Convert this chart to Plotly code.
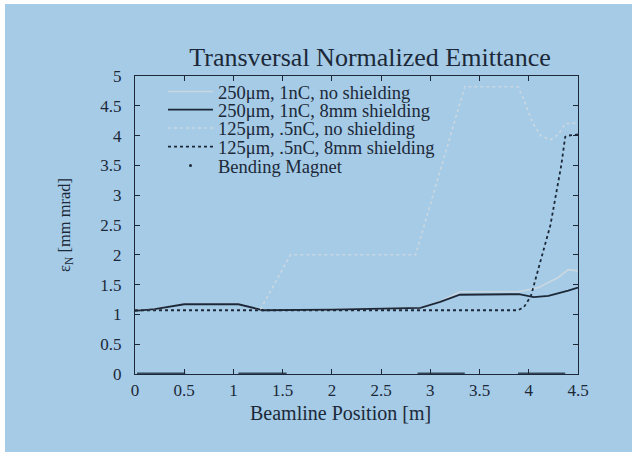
import plotly.graph_objects as go

# ---- data ----
x_250_noshield = [0, 0.2, 0.5, 1.05, 1.3, 2.0, 2.9, 3.1, 3.3, 3.9, 4.1, 4.3, 4.4, 4.5]
y_250_noshield = [1.06, 1.09, 1.17, 1.17, 1.07, 1.08, 1.11, 1.22, 1.38, 1.38, 1.45, 1.62, 1.75, 1.73]

x_250_shield = [0, 0.2, 0.5, 1.05, 1.3, 2.0, 2.9, 3.1, 3.3, 3.9, 4.05, 4.2, 4.4, 4.5]
y_250_shield = [1.06, 1.09, 1.17, 1.17, 1.07, 1.08, 1.11, 1.21, 1.33, 1.34, 1.29, 1.31, 1.40, 1.45]

x_125_noshield = [0, 1.27, 1.58, 2.85, 3.35, 3.89, 3.95, 4.04, 4.12, 4.22, 4.3, 4.37, 4.5]
y_125_noshield = [1.07, 1.07, 2.0, 2.0, 4.82, 4.82, 4.6, 4.21, 4.0, 3.93, 4.02, 4.2, 4.21]

x_125_shield = [0, 3.89, 3.95, 4.02, 4.22, 4.33, 4.37, 4.4, 4.5]
y_125_shield = [1.07, 1.07, 1.12, 1.3, 2.5, 3.5, 3.98, 4.0, 4.02]

magnet_start = [0.02, 1.05, 2.87, 3.89]
magnet_end = [0.51, 1.54, 3.35, 4.37]

series_names = [
    "250μm, 1nC, no shielding",
    "250μm, 1nC, 8mm shielding",
    "125μm, .5nC, no shielding",
    "125μm, .5nC, 8mm shielding",
    "Bending Magnet",
]

x_ticks = [0, 0.5, 1, 1.5, 2, 2.5, 3, 3.5, 4, 4.5]
y_ticks = [0, 0.5, 1, 1.5, 2, 2.5, 3, 3.5, 4, 4.5, 5]

# ---- styling / layout (page pixels) ----
BG = "#a5cbe6"
DARK = "#1c2838"
LIGHT = "#cad7e1"
FONT = "Liberation Serif"
OX, OY = 5, 4                     # white page border (body margin)
PL, PR, PT, PB = 135, 578, 76, 374  # plot area in page pixels
W, H = 632 - OX, 452 - OY


def px(xp):
    return (xp - PL) / (PR - PL)


def py(yp):
    return (PB - yp) / (PB - PT)


mag_x, mag_y = [], []
for s, e in zip(magnet_start, magnet_end):
    mag_x += [s, e, None]
    mag_y += [0, 0, None]

legend_rows = [92, 110, 128.5, 147, 166]
legend_ids = ["legend", "legend2", "legend3", "legend4", "legend5"]

fig = go.Figure()
fig.add_trace(go.Scatter(x=x_250_noshield, y=y_250_noshield, mode="lines",
                         name=series_names[0], legend=legend_ids[0],
                         line=dict(color=LIGHT, width=1.6)))
fig.add_trace(go.Scatter(x=x_250_shield, y=y_250_shield, mode="lines",
                         name=series_names[1], legend=legend_ids[1],
                         line=dict(color=DARK, width=1.8)))
fig.add_trace(go.Scatter(x=x_125_noshield, y=y_125_noshield, mode="lines",
                         name=series_names[2], legend=legend_ids[2],
                         line=dict(color=LIGHT, width=1.6, dash="dot")))
fig.add_trace(go.Scatter(x=x_125_shield, y=y_125_shield, mode="lines",
                         name=series_names[3], legend=legend_ids[3],
                         line=dict(color=DARK, width=1.8, dash="dot")))
fig.add_trace(go.Scatter(x=mag_x, y=mag_y, mode="lines", showlegend=False,
                         line=dict(color="#34465a", width=3)))
fig.add_trace(go.Scatter(x=[None], y=[None], mode="markers", name=series_names[4],
                         legend=legend_ids[4], marker=dict(color=DARK, size=3)))

axis_common = dict(
    showgrid=False, zeroline=False, showline=True, linecolor=DARK, linewidth=1,
    mirror="ticks", ticks="inside", ticklen=5, tickcolor=DARK,
    tickfont=dict(family=FONT, size=17, color=DARK),
)

legend_layout = {}
for lid, row in zip(legend_ids, legend_rows):
    legend_layout[lid] = dict(
        x=px(163), y=py(row), xanchor="left", yanchor="middle",
        bgcolor="rgba(0,0,0,0)", borderwidth=0, itemwidth=45,
        font=dict(family=FONT, size=18.5, color=DARK))

fig.update_layout(
    width=W, height=H,
    margin=dict(l=PL - OX, r=W - (PR - OX), t=PT - OY, b=H - (PB - OY)),
    paper_bgcolor=BG, plot_bgcolor=BG,
    font=dict(family=FONT, color=DARK),
    title=dict(text="Transversal Normalized Emittance", x=(370 - OX) / W, xref="container",
               xanchor="center", y=1 - (57 - OY) / H, yref="container", yanchor="middle",
               font=dict(family=FONT, size=26, color=DARK)),
    xaxis=dict(range=[0, 4.5], tickvals=x_ticks, ticklabelstandoff=1,
               ticktext=[f"{v:g}" for v in x_ticks], **axis_common),
    yaxis=dict(range=[0, 5], tickvals=y_ticks, ticklabelstandoff=9,
               ticktext=[f"{v:g}" for v in y_ticks], **axis_common),
    showlegend=True,
    annotations=[
        dict(text="Beamline Position [m]", xref="paper", yref="paper",
             x=px(340), y=py(413), xanchor="center", yanchor="middle",
             showarrow=False, font=dict(family=FONT, size=20, color=DARK)),
        dict(text="ε<sub>N</sub> [mm mrad]", xref="paper", yref="paper",
             x=px(65), y=py(225), xanchor="center", yanchor="middle",
             textangle=-90, showarrow=False, font=dict(family=FONT, size=16.5, color=DARK)),
    ],
    **legend_layout,
)

fig.write_html(
    "out.html",
    post_script=("document.documentElement.style.overflow='hidden';"
                 "document.body.style.overflow='hidden';"
                 "document.body.style.margin='%dpx 0 0 %dpx';" % (OY, OX)),
)
